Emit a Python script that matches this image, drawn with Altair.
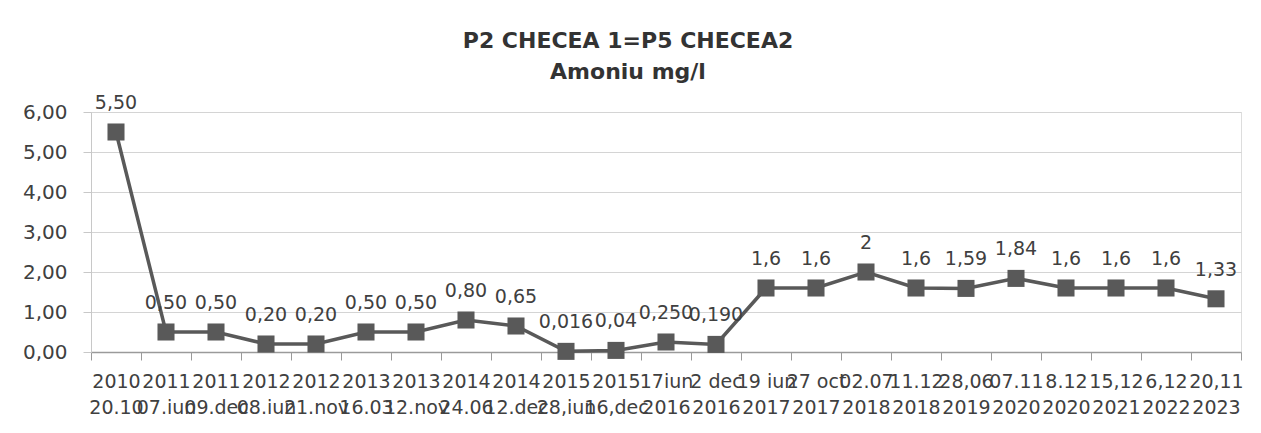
import altair as alt
import pandas as pd

# Category labels (two lines each, as in the reference)
line1 = ["2010", "2011", "2011", "2012", "2012", "2013", "2013", "2014", "2014",
         "2015", "2015", "17iun", "2 dec", "19 iun", "27 oct", "02.07", "11.12",
         "28,06", "07.11", "8.12", "15,12", "6,12", "20,11"]
line2 = ["20.10", "07.iun", "09.dec", "08.iun", "21.nov", "16.03", "12.nov", "24.06",
         "12.dec", "28,iun", "16,dec", "2016", "2016", "2017", "2017", "2018", "2018",
         "2019", "2020", "2020", "2021", "2022", "2023"]

values = [5.50, 0.50, 0.50, 0.20, 0.20, 0.50, 0.50, 0.80, 0.65, 0.016, 0.04, 0.25,
          0.19, 1.6, 1.6, 2.0, 1.6, 1.59, 1.84, 1.6, 1.6, 1.6, 1.33]
value_labels = ["5,50", "0,50", "0,50", "0,20", "0,20", "0,50", "0,50", "0,80", "0,65",
                "0,016", "0,04", "0,250", "0,190", "1,6", "1,6", "2", "1,6", "1,59",
                "1,84", "1,6", "1,6", "1,6", "1,33"]

y_ticks = [0, 1, 2, 3, 4, 5, 6]

keys = [a + "|" + b for a, b in zip(line1, line2)]
df = pd.DataFrame({"cat": keys, "val": values, "lbl": value_labels})

FONT = "DejaVu Sans"
TXT = "#404040"
SERIES = "#595959"

x_enc = alt.X(
    "cat:N",
    sort=keys,
    scale=alt.Scale(type="band", paddingInner=0, paddingOuter=0),
    axis=alt.Axis(
        title=None,
        labelExpr="split(datum.label, '|')",
        labelAngle=0,
        labelOverlap=False,
        labelFont=FONT,
        labelFontSize=19,
        labelColor=TXT,
        labelLineHeight=26,
        labelPadding=12,
        labelBound=False,
        labelFlush=False,
        tickBand="extent",
        tickSize=8,
        tickColor="#9a9a9a",
        domainColor="#9a9a9a",
        domainWidth=1.5,
        grid=False,
    ),
)

y_enc = alt.Y(
    "val:Q",
    scale=alt.Scale(domain=[0, 6], nice=False),
    axis=alt.Axis(
        title=None,
        values=y_ticks,
        labelExpr="replace(format(datum.value, '.2f'), '.', ',')",
        labelFont=FONT,
        labelFontSize=20,
        labelColor=TXT,
        labelPadding=16,
        tickSize=8,
        tickColor="#c8c8c8",
        domainColor="#c8c8c8",
        gridColor="#d4d4d4",
        gridWidth=1.2,
    ),
)

base = alt.Chart(df).encode(x=x_enc, y=y_enc)

line = base.mark_line(color=SERIES, strokeWidth=3.5)
pts = base.mark_point(shape="square", filled=True, size=290, color=SERIES, opacity=1)
txt = base.mark_text(font=FONT, fontSize=19, color=TXT, dy=-29, baseline="middle").encode(
    text="lbl:N"
)

chart = (
    alt.layer(line, pts, txt)
    .properties(
        width=1150,
        height=240,
        autosize=alt.AutoSizeParams(type="none"),
        padding={"left": 83, "top": 104, "right": 5, "bottom": 70},
        title=alt.TitleParams(
            text=["P2 CHECEA 1=P5 CHECEA2", "Amoniu mg/l"],
            font=FONT,
            fontSize=22,
            fontWeight="bold",
            color="#333333",
            anchor="middle",
            lineHeight=31,
            offset=10,
            dx=-38,
        ),
    )
    .configure_view(stroke=None)
    .configure(background="white")
)

chart.save("out.html", embed_options={"renderer": "svg", "actions": False})
